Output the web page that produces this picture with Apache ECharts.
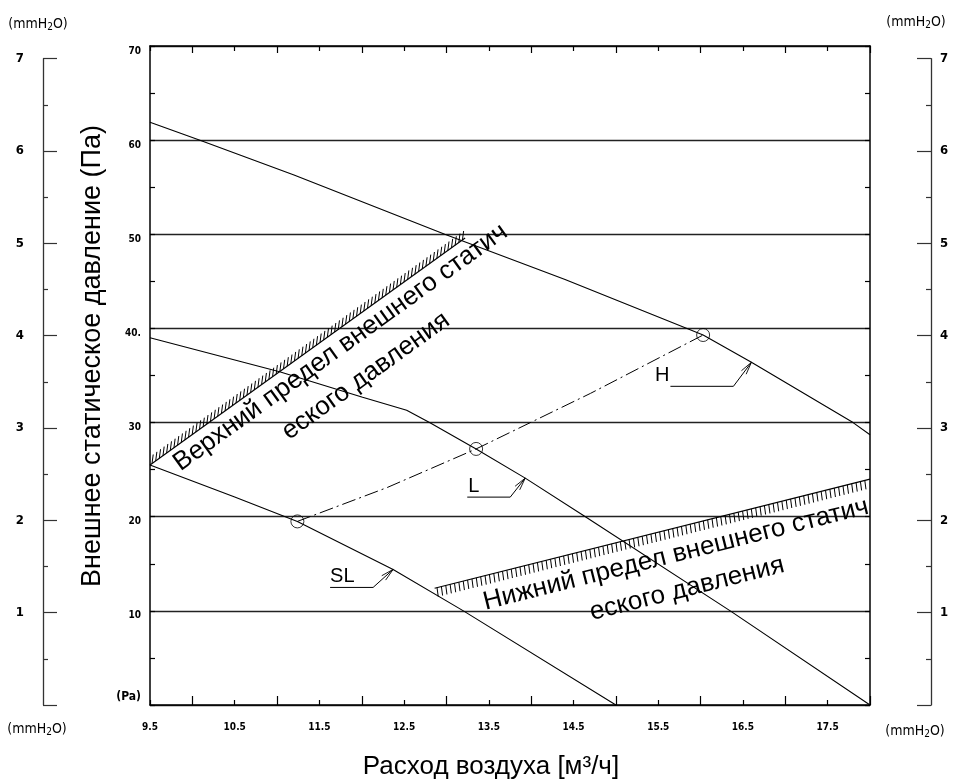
<!DOCTYPE html>
<html><head><meta charset="utf-8">
<script src="https://cdn.jsdelivr.net/npm/echarts@6/dist/echarts.min.js"></script>
<style>html,body{margin:0;padding:0;background:#fff}#c{width:960px;height:782px}</style>
</head><body><div id="c"></div>
<script>
// ---- data ----
const flowTickLabels = [9.5, 10.5, 11.5, 12.5, 13.5, 14.5, 15.5, 16.5, 17.5];
const flowMajorTicks = [10, 11, 12, 13, 14, 15, 16, 17, 18];
const paTicks = [0, 10, 20, 30, 40, 50, 60, 70];
const mmTicks = [0, 1, 2, 3, 4, 5, 6, 7];

const hFlow = [9.5, 10.09, 11.2, 12.98, 14.4, 15.84, 16.03, 16.6, 17.8, 18.0];
const hPa   = [61.9, 60, 56.3, 50, 45.2, 40, 39.3, 36.4, 30, 28.7];
const lFlow = [9.5, 11.03, 12.01, 12.53, 12.8, 13.35, 13.93, 14.64, 16.35, 18.0];
const lPa   = [39.0, 35.4, 32.7, 31.3, 30.0, 27.2, 24.1, 20.0, 10.0, 0];
const slFlow = [9.5, 10.5, 11.24, 12.37, 13.2, 15.0];
const slPa   = [25.5, 22.1, 19.5, 14.4, 10.0, 0];
const sysFlow = [11.24, 12.3, 13.35, 14.7, 16.03];
const sysPa   = [19.5, 23.1, 27.2, 33.1, 39.3];
const opFlow = [11.24, 13.35, 16.03];
const opPa   = [19.5, 27.2, 39.3];
const upperFlow = [9.5, 13.22];
const upperPa   = [25.5, 49.6];
const lowerFlow = [12.86, 18.0];
const lowerPa   = [12.4, 24.0];
const leaderNames = ['H', 'L', 'SL'];
const leaderFlow = [16.6, 13.93, 12.37];
const leaderPa   = [36.4, 24.1, 14.4];
const upperText = ['Верхний предел внешнего статич', 'еского давления'];
const lowerText = ['Нижний предел внешнего статич', 'еского давления'];
const yTitle = 'Внешнее статическое давление (Па)';
const xTitle = 'Расход воздуха [м³/ч]';

// ---- styles ----
const NARROW = '"Liberation Sans Narrow", "DejaVu Sans Condensed", "Arial Narrow", sans-serif';
const SANS = '"Liberation Sans", Arial, Helvetica, sans-serif';
const pairs = (xs, ys) => xs.map((x, i) => [x, ys[i]]);

function limitSeries(xs, ys, texts, alongs, perps, side) {
  return {
    type: 'custom', clip: false, silent: true, z: 4,
    encode: { x: [0, 2], y: [1, 3] },
    data: [[xs[0], ys[0], xs[1], ys[1]]],
    renderItem: function (params, api) {
      const p0 = api.coord([api.value(0), api.value(1)]);
      const p1 = api.coord([api.value(2), api.value(3)]);
      const dx = p1[0] - p0[0], dy = p1[1] - p0[1];
      const len = Math.hypot(dx, dy);
      const ux = dx / len, uy = dy / len;
      const nx = -uy, ny = ux;
      const children = [{
        type: 'line', shape: { x1: p0[0], y1: p0[1], x2: p1[0], y2: p1[1] },
        style: { stroke: '#000', lineWidth: 1.2 }
      }];
      for (let s = 2.5; s < len - 1; s += 4.5) {
        const bx = p0[0] + ux * s, by = p0[1] + uy * s;
        children.push({
          type: 'line', shape: { x1: bx, y1: by, x2: bx + 1.2, y2: by + side * 9 },
          style: { stroke: '#000', lineWidth: 1 }
        });
      }
      const rot = -Math.atan2(dy, dx);
      texts.forEach((t, i) => {
        const a = alongs[i] * len;
        children.push({
          type: 'text',
          x: p0[0] + ux * a + nx * perps[i],
          y: p0[1] + uy * a + ny * perps[i],
          rotation: rot,
          style: { text: t, fontSize: 26, fontFamily: SANS, fill: '#000', align: 'center', verticalAlign: 'middle' }
        });
      });
      return { type: 'group', children: children };
    }
  };
}

const leaderGeom = [
  { elbow: [-18, 24], end: [-81, 24], text: [-82, 13.5], align: 'right' },
  { elbow: [-15, 19], end: [-58, 19], text: [-57, 8.5], align: 'left' },
  { elbow: [-20, 18], end: [-63, 18], text: [-63, 7.5], align: 'left' }
];

const leaderSeries = {
  type: 'custom', clip: false, silent: true, z: 5,
  encode: { x: 0, y: 1 },
  data: pairs(leaderFlow, leaderPa),
  renderItem: function (params, api) {
    const i = params.dataIndex;
    const g = leaderGeom[i];
    const p = api.coord([api.value(0), api.value(1)]);
    const ex = p[0] + g.elbow[0], ey = p[1] + g.elbow[1];
    const dl = Math.hypot(g.elbow[0], g.elbow[1]);
    const ux = g.elbow[0] / dl, uy = g.elbow[1] / dl;
    const ang = 13 * Math.PI / 180, al = 13;
    const r1 = [ux * Math.cos(ang) - uy * Math.sin(ang), ux * Math.sin(ang) + uy * Math.cos(ang)];
    const r2 = [ux * Math.cos(-ang) - uy * Math.sin(-ang), ux * Math.sin(-ang) + uy * Math.cos(-ang)];
    return {
      type: 'group',
      children: [
        { type: 'polyline', shape: { points: [[p[0] + g.end[0], p[1] + g.end[1]], [ex, ey], [p[0], p[1]]] },
          style: { stroke: '#000', lineWidth: 1, fill: null } },
        { type: 'line', shape: { x1: p[0], y1: p[1], x2: p[0] + r1[0] * al, y2: p[1] + r1[1] * al }, style: { stroke: '#000', lineWidth: 0.9 } },
        { type: 'line', shape: { x1: p[0], y1: p[1], x2: p[0] + r2[0] * al, y2: p[1] + r2[1] * al }, style: { stroke: '#000', lineWidth: 0.9 } },
        { type: 'text', x: p[0] + g.text[0], y: p[1] + g.text[1],
          style: { text: leaderNames[i], fontSize: 20, fontFamily: SANS, fill: '#000', align: g.align, verticalAlign: 'middle' } }
      ]
    };
  }
};

function curve(xs, ys, extra) {
  return Object.assign({
    type: 'line', data: pairs(xs, ys), showSymbol: false, symbol: 'none', z: 3,
    lineStyle: { color: '#000', width: 1.1 }, silent: true
  }, extra || {});
}

const tickFont = { fontSize: 10, fontWeight: 'bold', fontFamily: NARROW, color: '#000' };
const mmLabel = (x, y) => ({
  type: 'text', x: x, y: y,
  style: {
    text: '{a|(mmH}{b|2}{a|O)}', align: 'center', verticalAlign: 'middle',
    rich: { a: { fontSize: 14, fontFamily: NARROW, fill: '#000' }, b: { fontSize: 10, fontFamily: NARROW, fill: '#000', padding: [7, 0, 0, 0] } }
  }
});

const chart = echarts.init(document.getElementById('c'), null, { renderer: 'canvas' });
const blackLine = { show: true, lineStyle: { color: '#000', width: 1.5 } };
chart.setOption({
  animation: false,
  backgroundColor: '#fff',
  grid: [
    { left: 150, right: 90, top: 46, bottom: 77, outerBoundsMode: 'none' },
    { left: 43, width: 1, top: 58.7, bottom: 77, outerBoundsMode: 'none' },
    { left: 931, width: 1, top: 58.7, bottom: 77, outerBoundsMode: 'none' }
  ],
  xAxis: [
    { gridIndex: 0, type: 'value', min: 9.5, max: 18, position: 'bottom',
      axisLine: blackLine,
      axisTick: { show: true, inside: true, length: 9, customValues: flowMajorTicks, lineStyle: { color: '#000', width: 1.2 } },
      axisLabel: Object.assign({ show: true, margin: 17, customValues: flowTickLabels }, tickFont),
      splitLine: { show: false } },
    { gridIndex: 0, type: 'value', min: 9.5, max: 18, position: 'bottom',
      axisLine: { show: false },
      axisTick: { show: true, inside: true, length: 5, customValues: flowTickLabels, lineStyle: { color: '#000', width: 1.2 } },
      axisLabel: { show: false }, splitLine: { show: false } },
    { gridIndex: 0, type: 'value', min: 9.5, max: 18, position: 'top',
      axisLine: blackLine,
      axisTick: { show: true, inside: true, length: 7, customValues: flowMajorTicks, lineStyle: { color: '#000', width: 1.2 } },
      axisLabel: { show: false }, splitLine: { show: false } },
    { gridIndex: 0, type: 'value', min: 9.5, max: 18, position: 'top',
      axisLine: { show: false },
      axisTick: { show: true, inside: true, length: 5, customValues: flowTickLabels, lineStyle: { color: '#000', width: 1.2 } },
      axisLabel: { show: false }, splitLine: { show: false } },
    { gridIndex: 1, type: 'value', show: false, min: 0, max: 1 },
    { gridIndex: 2, type: 'value', show: false, min: 0, max: 1 }
  ],
  yAxis: [
    { gridIndex: 0, type: 'value', min: paTicks[0], max: paTicks[paTicks.length - 1], interval: 10, position: 'left',
      axisLine: blackLine,
      axisTick: { show: true, inside: true, length: 5, lineStyle: { color: '#000', width: 1.2 } },
      minorTick: { show: true, splitNumber: 2, length: 5, lineStyle: { color: '#000', width: 1.2 } },
      splitLine: { show: true, lineStyle: { color: '#222', width: 1.3 } },
      axisLabel: Object.assign({ margin: 9, verticalAlign: 'top',
        formatter: v => v === 0 ? '' : (v === 40 ? '40.' : String(v)) }, tickFont) },
    { gridIndex: 0, type: 'value', min: paTicks[0], max: paTicks[paTicks.length - 1], interval: 10, position: 'right',
      axisLine: blackLine,
      axisTick: { show: true, inside: true, length: 5, lineStyle: { color: '#000', width: 1.2 } },
      minorTick: { show: true, splitNumber: 2, length: 5, lineStyle: { color: '#000', width: 1.2 } },
      splitLine: { show: false }, axisLabel: { show: false } },
    { gridIndex: 1, type: 'value', min: mmTicks[0], max: mmTicks[mmTicks.length - 1], interval: 1, position: 'left',
      axisLine: { show: true, lineStyle: { color: '#333', width: 1.3 } },
      axisTick: { show: true, inside: true, length: 14, lineStyle: { color: '#333', width: 1.2 } },
      minorTick: { show: true, splitNumber: 2, length: 5, lineStyle: { color: '#333', width: 1.2 } },
      splitLine: { show: false },
      axisLabel: Object.assign({ margin: 19, formatter: v => v === 0 ? '' : String(v) }, tickFont, { fontSize: 13 }) },
    { gridIndex: 2, type: 'value', min: mmTicks[0], max: mmTicks[mmTicks.length - 1], interval: 1, position: 'right',
      axisLine: { show: true, lineStyle: { color: '#333', width: 1.3 } },
      axisTick: { show: true, inside: true, length: 14, lineStyle: { color: '#333', width: 1.2 } },
      minorTick: { show: true, splitNumber: 2, length: 5, lineStyle: { color: '#333', width: 1.2 } },
      splitLine: { show: false },
      axisLabel: Object.assign({ margin: 8, formatter: v => v === 0 ? '' : String(v) }, tickFont, { fontSize: 13 }) }
  ],
  series: [
    curve(hFlow, hPa),
    curve(lFlow, lPa),
    curve(slFlow, slPa),
    curve(sysFlow, sysPa, { lineStyle: { color: '#000', width: 1, type: [14, 4, 2, 4] } }),
    { type: 'scatter', data: pairs(opFlow, opPa), symbol: 'circle', symbolSize: 13, z: 6, silent: true,
      itemStyle: { color: 'rgba(255,255,255,0)', borderColor: '#000', borderWidth: 1 } },
    limitSeries(upperFlow, upperPa, upperText, [0.575, 0.585], [16, 54], -1),
    limitSeries(lowerFlow, lowerPa, lowerText, [0.54, 0.545], [26, 62], 1),
    leaderSeries
  ],
  graphic: [
    { type: 'text', x: 93, y: 356, rotation: Math.PI / 2,
      style: { text: yTitle, fontSize: 27, fontFamily: SANS, fill: '#000', align: 'center', verticalAlign: 'middle' } },
    { type: 'text', x: 491, y: 767,
      style: { text: xTitle, fontSize: 26, fontFamily: SANS, fill: '#000', align: 'center', verticalAlign: 'middle' } },
    { type: 'text', x: 141, y: 697,
      style: { text: '(Pa)', fontSize: 12, fontWeight: 'bold', fontFamily: NARROW, fill: '#000', align: 'right', verticalAlign: 'middle' } },
    mmLabel(38, 24), mmLabel(37, 729), mmLabel(916, 22), mmLabel(915, 731)
  ]
});
</script></body></html>
